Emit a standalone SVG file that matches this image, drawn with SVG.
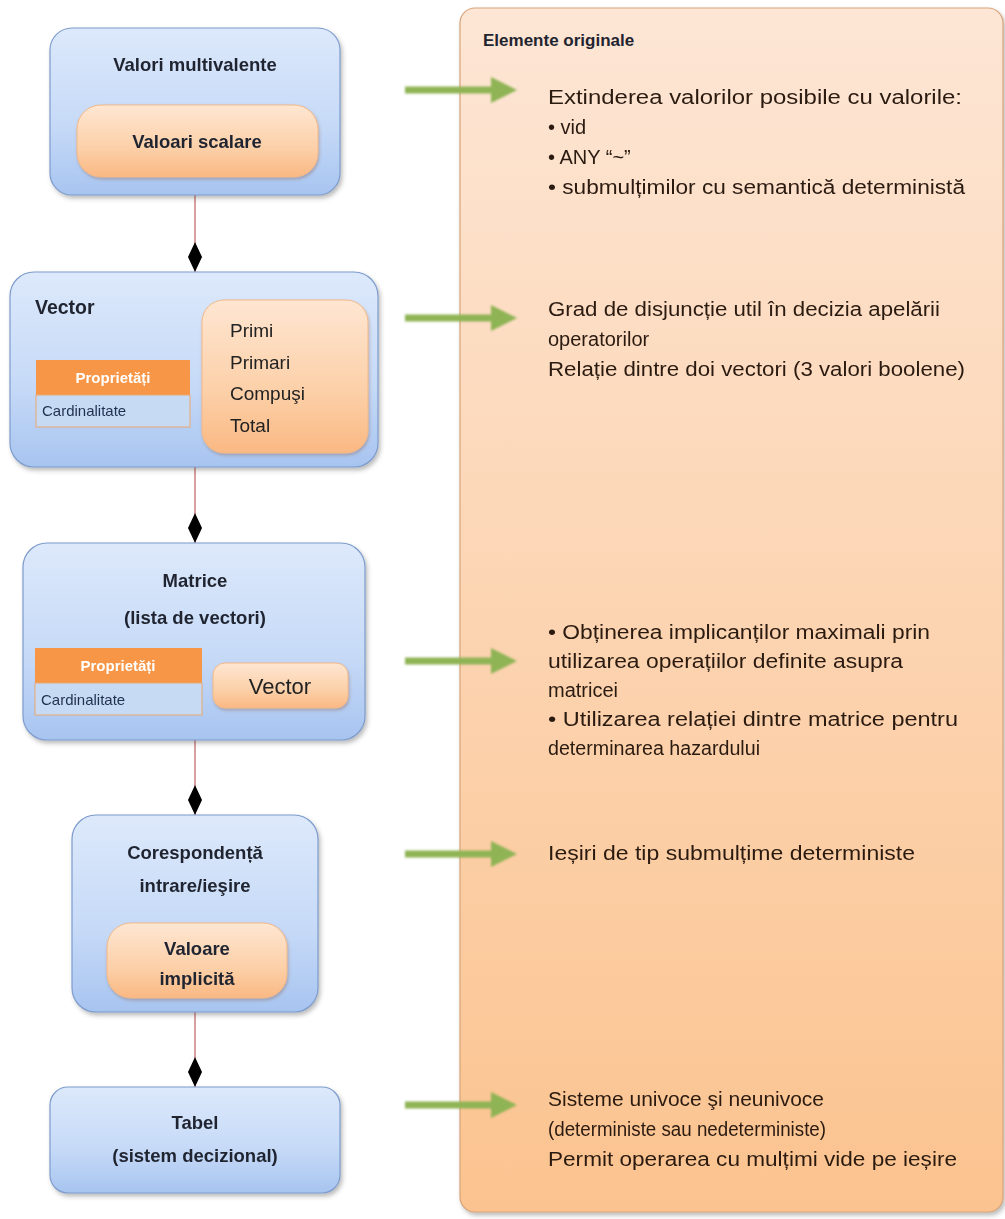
<svg xmlns="http://www.w3.org/2000/svg" width="1005" height="1219" viewBox="0 0 1005 1219">
<defs>
<linearGradient id="gBlue" x1="0" y1="0" x2="0" y2="1">
<stop offset="0" stop-color="#dde9fb"/><stop offset="0.6" stop-color="#c5d9f7"/><stop offset="1" stop-color="#a7c4f0"/>
</linearGradient>
<linearGradient id="gOr" x1="0" y1="0" x2="0" y2="1">
<stop offset="0" stop-color="#fee6d2"/><stop offset="0.6" stop-color="#fcd0a8"/><stop offset="1" stop-color="#fab883"/>
</linearGradient>
<linearGradient id="gPanel" x1="0" y1="0" x2="0" y2="1">
<stop offset="0" stop-color="#fde6d5"/><stop offset="1" stop-color="#fbc38f"/>
</linearGradient>
<filter id="sh" x="-10%" y="-10%" width="125%" height="125%">
<feDropShadow dx="2" dy="3" stdDeviation="2" flood-color="#404040" flood-opacity="0.35"/>
</filter>
<filter id="shs" x="-10%" y="-10%" width="125%" height="130%">
<feDropShadow dx="1" dy="2" stdDeviation="1.5" flood-color="#804020" flood-opacity="0.3"/>
</filter>
<filter id="blur" x="-10%" y="-30%" width="120%" height="160%">
<feGaussianBlur stdDeviation="0.9"/>
</filter>
<marker id="dia" viewBox="0 0 30 14" refX="30" refY="7" markerWidth="30" markerHeight="14" markerUnits="userSpaceOnUse" orient="auto">
<path d="M0 7 L15 0 L30 7 L15 14 Z" fill="#000"/>
</marker>
<g id="arrowShape">
<path d="M0 -3.5 L86 -3.5 L86 -13 L112 0 L86 13 L86 3.5 L0 3.5 Z" fill="#8fb454"/>
</g>
</defs>
<style>
.blue{fill:url(#gBlue);stroke:#7d9ccc;stroke-width:1.2;filter:url(#sh)}
.or{fill:url(#gOr);stroke:#f3b887;stroke-width:1;filter:url(#shs)}
.t{font-family:"Liberation Sans",Arial,sans-serif;fill:#222}
.tb{font-family:"Liberation Sans",Arial,sans-serif;font-weight:bold;fill:#1f2430;font-size:18.5px}
.rt{font-family:"Liberation Sans",Arial,sans-serif;fill:#2a1a10;font-size:20px}
.ph{fill:#f79646}
.pr{fill:#c7daf3;stroke:#e9a873;stroke-width:1}
.pht{font-family:"Liberation Sans",Arial,sans-serif;font-weight:bold;fill:#fff;font-size:15px}
.prt{font-family:"Liberation Sans",Arial,sans-serif;fill:#1f3050;font-size:15px}
.conn{stroke:#b0403d;stroke-width:1;fill:none}
</style>

<g id="panel">
<rect x="460" y="8" width="543" height="1204" rx="15" fill="url(#gPanel)" stroke="#d8a47a" stroke-width="1.2" filter="url(#sh)"/>
<text x="483" y="46" class="tb" style="font-size:17px">Elemente originale</text>
</g>

<g id="arrows" filter="url(#blur)">
<use href="#arrowShape" x="405" y="90"/>
<use href="#arrowShape" x="405" y="318"/>
<use href="#arrowShape" x="405" y="661"/>
<use href="#arrowShape" x="405" y="854"/>
<use href="#arrowShape" x="405" y="1105"/>
</g>

<g id="text1">
<text class="rt" x="548" y="104" textLength="414" lengthAdjust="spacingAndGlyphs">Extinderea valorilor posibile cu valorile:</text>
<text class="rt" x="548" y="134">• vid</text>
<text class="rt" x="548" y="164">• ANY “~”</text>
<text class="rt" x="548" y="194" textLength="417" lengthAdjust="spacingAndGlyphs">• submulțimilor  cu semantică  deterministă</text>
</g>
<g id="text2">
<text class="rt" x="548" y="316" textLength="392" lengthAdjust="spacingAndGlyphs">Grad de disjuncție util în decizia apelării</text>
<text class="rt" x="548" y="346">operatorilor</text>
<text class="rt" x="548" y="376" textLength="417" lengthAdjust="spacingAndGlyphs">Relație dintre doi vectori (3 valori boolene)</text>
</g>
<g id="text3">
<text class="rt" x="548" y="639" textLength="382" lengthAdjust="spacingAndGlyphs">• Obținerea implicanților maximali  prin</text>
<text class="rt" x="548" y="668" textLength="355" lengthAdjust="spacingAndGlyphs">utilizarea operațiilor definite asupra</text>
<text class="rt" x="548" y="697">matricei</text>
<text class="rt" x="548" y="726" textLength="410" lengthAdjust="spacingAndGlyphs">• Utilizarea relației dintre matrice pentru</text>
<text class="rt" x="548" y="755" textLength="212" lengthAdjust="spacingAndGlyphs">determinarea hazardului</text>
</g>
<g id="text4">
<text class="rt" x="548" y="860" textLength="367" lengthAdjust="spacingAndGlyphs">Ieșiri de tip  submulțime  deterministe</text>
</g>
<g id="text5">
<text class="rt" x="548" y="1106" textLength="276" lengthAdjust="spacingAndGlyphs">Sisteme  univoce şi neunivoce</text>
<text class="rt" x="548" y="1136" textLength="278" lengthAdjust="spacingAndGlyphs">(deterministe sau  nedeterministe)</text>
<text class="rt" x="548" y="1166" textLength="409" lengthAdjust="spacingAndGlyphs">Permit operarea cu mulțimi  vide pe ieșire</text>
</g>

<g id="connectors">
<line class="conn" x1="195" y1="195" x2="195" y2="272" marker-end="url(#dia)"/>
<line class="conn" x1="195" y1="467" x2="195" y2="543" marker-end="url(#dia)"/>
<line class="conn" x1="195" y1="740" x2="195" y2="815" marker-end="url(#dia)"/>
<line class="conn" x1="195" y1="1012" x2="195" y2="1087" marker-end="url(#dia)"/>
</g>

<g id="node-valori">
<rect class="blue" x="50" y="28" width="290" height="167" rx="22"/>
<text class="tb" x="195" y="71" text-anchor="middle">Valori multivalente</text>
<rect class="or" x="77" y="105" width="241" height="72" rx="24"/>
<text class="tb" x="197" y="148" text-anchor="middle">Valoari scalare</text>
</g>

<g id="node-vector">
<rect class="blue" x="10" y="272" width="368" height="195" rx="24"/>
<text class="tb" x="35" y="314" style="font-size:19.5px">Vector</text>
<rect class="ph" x="36" y="360" width="154" height="35"/>
<rect class="pr" x="36" y="395" width="154" height="32"/>
<text class="pht" x="113" y="383" text-anchor="middle">Proprietăți</text>
<text class="prt" x="42" y="416">Cardinalitate</text>
<rect class="or" x="202" y="300" width="166" height="153" rx="22"/>
<text class="t" x="230" y="337" style="font-size:19px">Primi</text>
<text class="t" x="230" y="369" style="font-size:19px">Primari</text>
<text class="t" x="230" y="400" style="font-size:19px">Compuşi</text>
<text class="t" x="230" y="432" style="font-size:19px">Total</text>
</g>

<g id="node-matrice">
<rect class="blue" x="23" y="543" width="342" height="197" rx="24"/>
<text class="tb" x="195" y="587" text-anchor="middle">Matrice</text>
<text class="tb" x="195" y="624" text-anchor="middle">(lista de vectori)</text>
<rect class="ph" x="35" y="648" width="167" height="35"/>
<rect class="pr" x="35" y="683" width="167" height="32"/>
<text class="pht" x="118" y="671" text-anchor="middle">Proprietăți</text>
<text class="prt" x="41" y="705">Cardinalitate</text>
<rect class="or" x="213" y="663" width="135" height="45" rx="12"/>
<text class="t" x="280" y="694" text-anchor="middle" style="font-size:22px">Vector</text>
</g>

<g id="node-corespondenta">
<rect class="blue" x="72" y="815" width="246" height="197" rx="24"/>
<text class="tb" x="195" y="859" text-anchor="middle">Corespondență</text>
<text class="tb" x="195" y="892" text-anchor="middle">intrare/ieşire</text>
<rect class="or" x="107" y="923" width="180" height="75" rx="24"/>
<text class="tb" x="197" y="955" text-anchor="middle">Valoare</text>
<text class="tb" x="197" y="985" text-anchor="middle">implicită</text>
</g>

<g id="node-tabel">
<rect class="blue" x="50" y="1087" width="290" height="106" rx="18"/>
<text class="tb" x="195" y="1129" text-anchor="middle">Tabel</text>
<text class="tb" x="195" y="1162" text-anchor="middle">(sistem decizional)</text>
</g>
</svg>
